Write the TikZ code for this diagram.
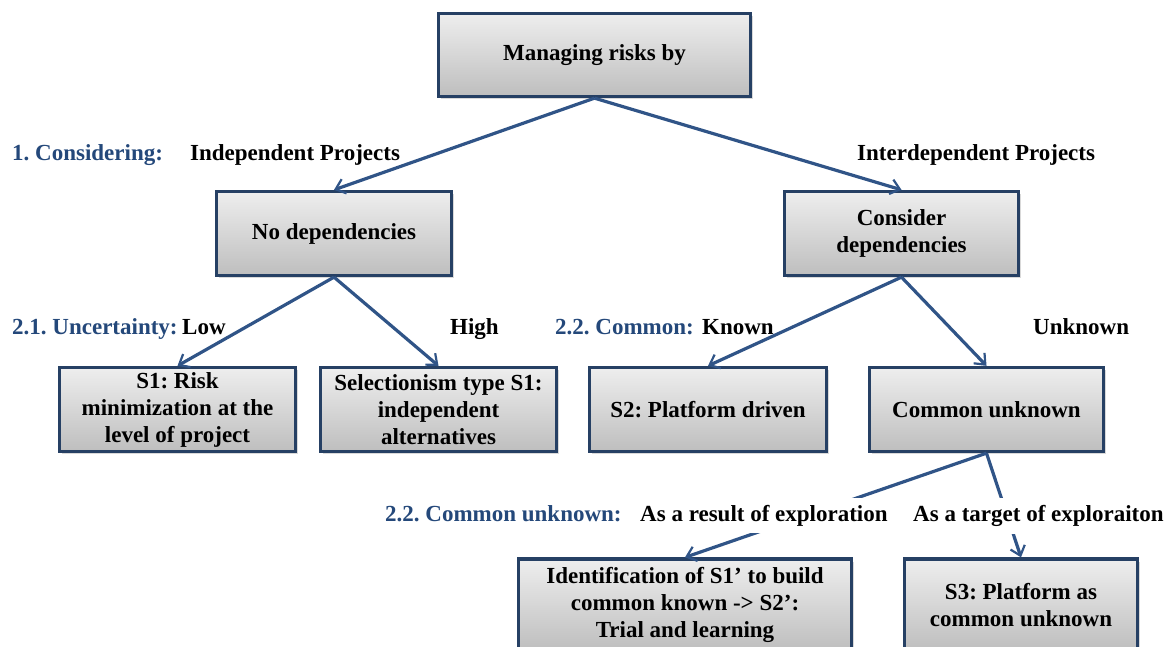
\documentclass[tikz,border=0pt]{standalone}
\usepackage{fontspec}
\setmainfont{Liberation Serif}
\usetikzlibrary{arrows.meta,shadows,shadings}
\definecolor{boxborder}{RGB}{38,64,100}
\definecolor{arrowcol}{RGB}{48,84,135}
\definecolor{lblblue}{RGB}{36,72,122}
\definecolor{boxtop}{RGB}{238,238,238}
\definecolor{boxbot}{RGB}{190,190,190}
\frenchspacing
\begin{document}
\begin{tikzpicture}[x=1pt,y=1pt,
  box/.style={draw=boxborder, line width=3.3pt, top color=boxtop, bottom color=boxbot,
    minimum height=84pt, align=center, inner sep=2pt,
    font=\fontsize{23}{27}\selectfont\bfseries,
    drop shadow={shadow xshift=2.5pt, shadow yshift=-2.5pt, opacity=0.3}},
  conn/.style={draw=arrowcol, line width=3.2pt,
    -{Straight Barb[length=9pt,width=15pt,line width=2.2pt]}},
  lbl/.style={font=\fontsize{23}{27}\selectfont\bfseries, inner sep=0pt, anchor=base west},
  blbl/.style={lbl, text=lblblue},
  hidelbl/.style={lbl, fill=white, inner ysep=7pt, inner xsep=3pt}
]
\useasboundingbox (0,0) rectangle (1171,-646);
\clip (0,0) rectangle (1171,-646);

% boxes
\node[box, minimum width=312pt, minimum height=83pt] (top) at (594.5,-55) {Managing risks by};
\node[box, minimum width=235pt] (nodep) at (334,-233.5) {No dependencies};
\node[box, minimum width=234pt] (condep) at (901.5,-233.5) {Consider\\dependencies};
\node[box, minimum width=236pt] (s1) at (177.5,-409.5) {S1: Risk\\minimization at the\\level of project};
\node[box, minimum width=236pt] (sel) at (438.5,-409.5) {Selectionism type S1:\\independent\\alternatives};
\node[box, minimum width=237pt] (s2) at (708,-409.5) {S2: Platform driven};
\node[box, minimum width=234pt] (cu) at (986.5,-409.5) {Common unknown};
\node[box, minimum width=333pt, minimum height=92pt] (ident) at (685,-605) {Identification of S1’ to build\\common known -> S2’:\\Trial and learning};
\node[box, minimum width=233pt, minimum height=92pt] (s3) at (1021,-605) {S3: Platform as\\common unknown};

% connectors
\draw[conn] (top.south) -- (nodep.north);
\draw[conn] (top.south) -- (condep.north);
\draw[conn] (nodep.south) -- (s1.north);
\draw[conn] (nodep.south) -- (sel.north);
\draw[conn] (condep.south) -- (s2.north);
\draw[conn] (condep.south) -- (cu.north);
\draw[conn] (cu.south) -- (ident.north);
\draw[conn] (cu.south) -- (s3.north);

% labels
\node[blbl] (l1) at (12,-160.5) {1. Considering:};
\node[lbl] (l1a) at (190,-160.5) {Independent Projects};
\node[lbl] (l1b) at (857,-160.5) {Interdependent Projects};
\node[blbl] (l2) at (12,-334.5) {2.1. Uncertainty:};
\node[lbl] (l2a) at (182,-334.5) {Low};
\node[lbl] (l2b) at (450,-334.5) {High};
\node[blbl] (l3) at (555,-334.5) {2.2. Common:};
\node[lbl] (l3a) at (702,-334.5) {Known};
\node[lbl] (l3b) at (1033,-334.5) {Unknown};
\node[blbl] (l4) at (385,-521.5) {2.2. Common unknown:};
\node[hidelbl] (l4a) at (637,-521.5) {As a result of exploration};
\node[hidelbl] (l4b) at (910,-521.5) {As a target of exploraiton};
\end{tikzpicture}
\end{document}
